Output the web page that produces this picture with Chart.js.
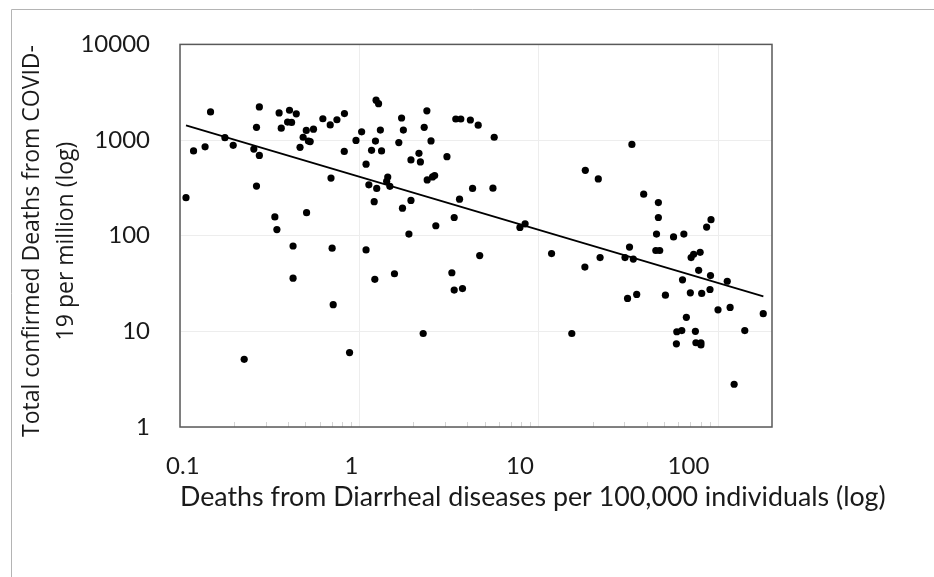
<!DOCTYPE html>
<html>
<head>
<meta charset="utf-8">
<script src="https://cdn.jsdelivr.net/npm/chart.js@4/dist/chart.umd.min.js"></script>
<style>
  html, body { margin: 0; padding: 0; background: #fff; }
  #wrap { position: relative; width: 934px; height: 577px; }
</style>
</head>
<body>
<div id="wrap"><canvas id="chart" width="934" height="577"></canvas></div>
<script>
// Deaths from diarrheal diseases per 100,000 (x) vs total COVID-19 deaths per million (y)
const diarrhealDeaths = [
  0.108, 0.119, 0.138, 0.148, 0.178, 0.198, 0.258, 0.277, 0.267, 0.267,
  0.277, 0.338, 0.347, 0.357, 0.367, 0.408, 0.445, 0.398, 0.419, 0.506,
  0.555, 0.486, 0.467, 0.520, 0.532, 0.508, 0.626, 0.688, 0.750, 0.826,
  0.824, 0.695, 0.958, 1.03, 1.09, 1.13, 1.21, 1.17, 1.24, 1.28,
  1.23, 1.31, 1.33, 1.25, 1.44, 1.42, 1.48, 1.72, 1.76, 1.66,
  1.94, 2.15, 2.19, 2.38, 2.30, 2.51, 3.08, 2.39, 2.56, 2.63,
  1.74, 1.94, 2.67, 3.38, 3.62, 4.28, 3.45, 3.68, 4.16, 4.60,
  5.65, 5.56, 1.89, 7.86, 8.40, 33.1, 18.2, 21.5, 38.5, 46.5,
  46.5, 45.4, 56.5, 64.5, 86.4, 91.4, 0.427, 0.705, 1.09, 0.427,
  1.22, 0.715, 0.228, 0.882, 1.57, 3.28, 3.38, 3.76, 4.69, 2.27,
  11.8, 15.3, 18.1, 22.0, 30.3, 32.1, 33.7, 45.0, 47.3, 70.8,
  73.1, 79.5, 78.0, 90.8, 112.6, 63.4, 31.3, 35.2, 50.9, 70.1,
  81.1, 90.2, 100, 116.8, 178.7, 66.6, 58.9, 62.8, 74.8, 58.6,
  75.3, 80.3, 80.3, 141, 123
];
const covidDeaths = [
  250, 770, 850, 1970, 1060, 880, 805, 690, 330, 1360,
  2220, 157, 116, 1920, 1330, 2050, 1880, 1540, 1530, 1260,
  1300, 1070, 840, 975, 965, 174, 1670, 1440, 1630, 1890,
  760, 400, 990, 1220, 560, 340, 227, 780, 2610, 2400,
  975, 1270, 770, 312, 410, 370, 328, 1700, 1270, 940,
  620, 727, 590, 2020, 1360, 980, 670, 383, 412, 425,
  194, 234, 127, 155, 241, 312, 1660, 1660, 1620, 1430,
  1070, 314, 104, 122, 133, 900, 483, 392, 272, 222,
  155, 104, 97, 104, 123, 147, 78, 74, 71, 36,
  35, 19, 5.1, 6.0, 40, 41, 27, 28, 62, 9.5,
  65, 9.5, 47, 59, 59, 76, 57, 70, 70, 59,
  64, 67, 43.5, 38.3, 33.4, 34.6, 22.1, 24.3, 23.9, 25.3,
  24.9, 27.4, 16.8, 17.8, 15.3, 14.0, 9.9, 10.2, 10.0, 7.4,
  7.6, 7.6, 7.2, 10.2, 2.8
];

const trendX = [0.108, 179];
const trendY = [1423, 23.2];

const xTickLabels = ['0.1', '1', '10', '100'];
const yTickLabels = ['1', '10', '100', '1000', '10000'];

const points = diarrhealDeaths.map((x, i) => ({ x, y: covidDeaths[i] }));
const trend = trendX.map((x, i) => ({ x, y: trendY[i] }));

const textColor = '#1a1a1a';
const gridColor = '#ededed';

// frame around the plot area + the outer box line
const framePlugin = {
  id: 'frame',
  afterLayout(chart) {
    // axis titles in the source run past the plot edges, so don't squeeze them
    chart.scales.xl.right = chart.width - 20;
    chart.scales.y.top = 20;
    chart.scales.y.bottom = 462;
  },
  beforeDraw(chart) {
    const { ctx } = chart;
    ctx.save();
    ctx.strokeStyle = '#b4b4b4';
    ctx.lineWidth = 1;
    ctx.beginPath();
    ctx.moveTo(11.5, 577);
    ctx.lineTo(11.5, 9.5);
    ctx.lineTo(934, 9.5);
    ctx.stroke();
    ctx.restore();
  },
  afterDatasetsDraw(chart) {
    const { ctx, chartArea: a, scales } = chart;
    ctx.save();
    // minor ticks inside the bottom edge
    const xs = scales.x;
    ctx.strokeStyle = '#d4d4d4';
    ctx.lineWidth = 1;
    for (let e = -1; e <= 2; e++) {
      for (let m = 2; m <= 9; m++) {
        const v = m * Math.pow(10, e);
        if (v >= xs.max) continue;
        const px = Math.round(xs.getPixelForValue(v)) + 0.5;
        ctx.beginPath();
        ctx.moveTo(px, a.bottom);
        ctx.lineTo(px, a.bottom - 5);
        ctx.stroke();
      }
    }
    ctx.strokeStyle = '#595959';
    ctx.lineWidth = 1.5;
    ctx.strokeRect(a.left, a.top, a.right - a.left, a.bottom - a.top);
    ctx.restore();
  }
};

new Chart(document.getElementById('chart'), {
  type: 'scatter',
  data: {
    datasets: [
      {
        label: 'Countries',
        data: points,
        backgroundColor: '#000',
        borderWidth: 0,
        pointRadius: 3.6,
        pointHoverRadius: 3.6
      },
      {
        type: 'line',
        label: 'Trend',
        data: trend,
        borderColor: '#000',
        borderWidth: 1.8,
        pointRadius: 0,
        fill: false,
        tension: 0
      }
    ]
  },
  options: {
    responsive: false,
    animation: false,
    devicePixelRatio: 1,
    layout: { padding: { top: 43, right: 162, bottom: 0, left: 0 } },
    plugins: {
      legend: { display: false },
      tooltip: { enabled: false }
    },
    scales: {
      x: {
        type: 'logarithmic',
        position: 'bottom',
        min: 0.1,
        max: 200,
        afterBuildTicks: s => { s.ticks = xTickLabels.map(t => ({ value: Number(t) })); },
        afterFit: s => { s.height = 0; },
        grid: { color: gridColor, drawTicks: false },
        border: { display: false },
        ticks: { display: false }
      },
      xl: {
        type: 'logarithmic',
        position: 'bottom',
        min: 0.0962,
        max: 313,
        afterBuildTicks: s => { s.ticks = xTickLabels.map(t => ({ value: Number(t) })); },
        afterFit: s => { s.height = 150; },
        grid: { display: false, drawTicks: false },
        border: { display: false },
        ticks: {
          autoSkip: false,
          maxRotation: 0,
          padding: 25,
          color: textColor,
          font: { family: 'Lato', size: 24 },
          callback: (v, i) => xTickLabels[i]
        },
        title: {
          display: true,
          text: 'Deaths from Diarrheal diseases per 100,000 individuals (log)',
          align: 'start',
          color: textColor,
          font: { family: 'Lato', size: 26.8, lineHeight: 1.2 },
          padding: { top: 0, bottom: 64 }
        }
      },
      y: {
        type: 'logarithmic',
        min: 1,
        max: 10000,
        afterBuildTicks: s => { s.ticks = yTickLabels.map(t => ({ value: Number(t) })); },
        afterFit: s => { s.width = 180; },
        grid: { color: gridColor, drawTicks: false },
        border: { display: false },
        ticks: {
          autoSkip: false,
          padding: 30,
          color: textColor,
          font: { family: 'Lato', size: 24 },
          callback: (v, i) => yTickLabels[i]
        },
        title: {
          display: true,
          text: ['Total confirmed Deaths from COVID-', '19 per million (log)'],
          color: textColor,
          font: { family: 'Open Sans', size: 23, lineHeight: 1.48 },
          padding: { top: 15, bottom: 0 }
        }
      }
    }
  },
  plugins: [framePlugin]
});
</script>
</body>
</html>
